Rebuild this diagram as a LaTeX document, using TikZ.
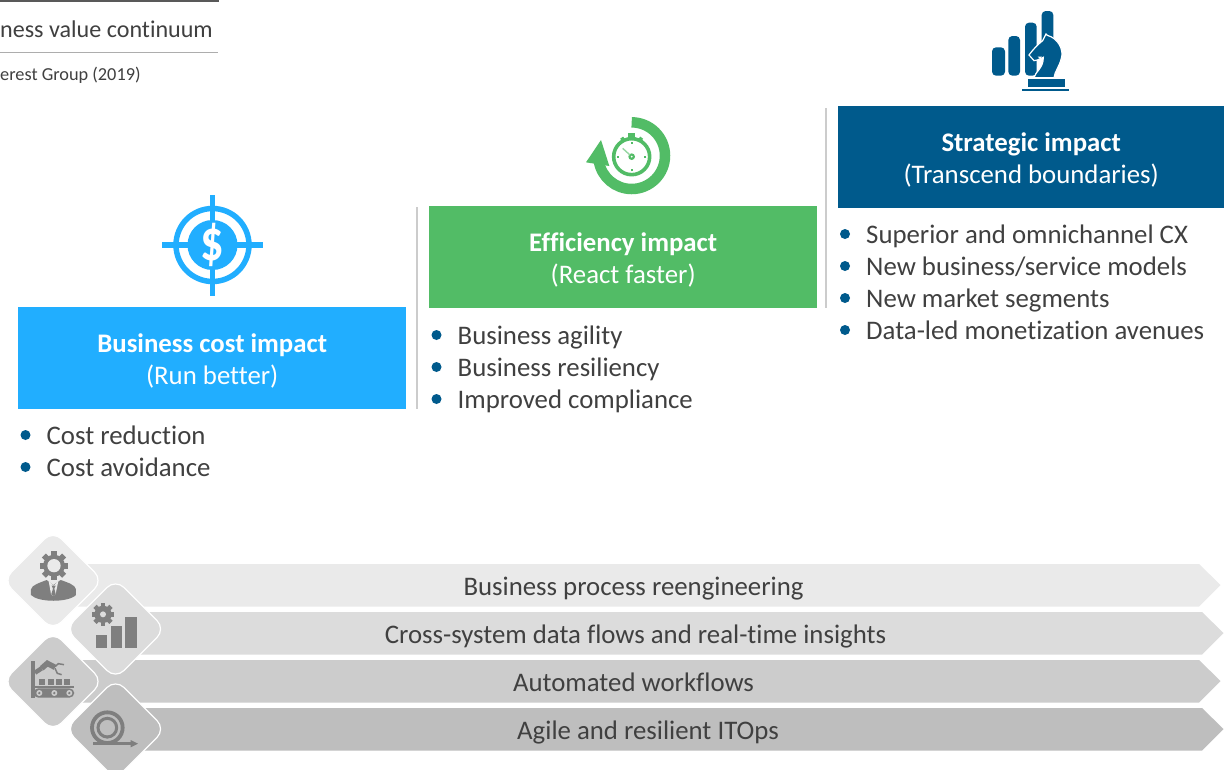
\documentclass[tikz,border=0pt]{standalone}
\usepackage{fontspec}
\setmainfont[Ligatures=CommonOff]{Carlito}
\definecolor{txt}{HTML}{404040}
\definecolor{cblue}{HTML}{21AEFF}
\definecolor{cgreen}{HTML}{52BC66}
\definecolor{cnavy}{HTML}{005A8C}
\definecolor{barA}{HTML}{EAEAEA}
\definecolor{barB}{HTML}{DCDCDC}
\definecolor{barC}{HTML}{CCCCCC}
\definecolor{barD}{HTML}{BEBEBE}
\definecolor{ico}{HTML}{7F7F7F}
\tikzset{
  box/.style={minimum width=388pt,minimum height=102pt,inner sep=0pt,anchor=north west},
  boxlabel/.style={inner sep=0pt,text=white,align=center,font=\fontsize{26.8}{32}\selectfont},
  item/.style={anchor=base west,inner sep=0pt,text=txt,font=\fontsize{26.8}{30}\selectfont},
  bul/.style={circle,fill=cnavy,minimum size=10pt,inner sep=0pt},
  barlabel/.style={anchor=base,text=txt,inner sep=0pt,font=\fontsize{26.8}{30}\selectfont},
  divider/.style={draw=black!20,line width=2pt},
  tile/.style={draw=white,line width=1.2pt,rounded corners=12pt},
}
% gear: x y outer-radius hole-radius bg
\newcommand{\mygear}[5]{%
  \fill[ico] (#1,#2) circle ({#3*0.76});
  \foreach \a in {0,45,...,315}{
    \fill[ico,rotate around={\a:(#1,#2)}] ({#1-#3*0.2},#2) rectangle ({#1+#3*0.2},{#2-#3});
  }
  \fill[#5] (#1,#2) circle (#4);
}
\begin{document}
\begin{tikzpicture}[x=1pt,y=-1pt]
\useasboundingbox (0,0) rectangle (1224,769);
\clip (0,0) rectangle (1224,769);
\fill[white] (0,0) rectangle (1224,769);
% header
\fill[black!65] (0,0) rectangle (219,2);
\fill[black!32] (0,52) rectangle (218,53.3);
\node[anchor=base east,inner sep=0pt,text=txt,font=\fontsize{24.1}{28}\selectfont] (title) at (213,37) {ness value continuum};
\node[anchor=base west,inner sep=0pt,text=txt,font=\fontsize{18.3}{20}\selectfont] (source) at (0,80) {erest Group (2019)};
% dividers
\draw[divider] (417,207) -- (417,409);
\draw[divider] (826,108) -- (826,308);
% boxes
\node[box,fill=cblue] (costbox) at (18,307) {};
\node[box,fill=cgreen] (effbox) at (429,206) {};
\node[box,fill=cnavy,minimum width=386pt] (stratbox) at (838,106) {};
\node[boxlabel] (costlabel) at ([yshift=-2.5pt]costbox.center) {\textbf{Business cost impact}\\(Run better)};
\node[boxlabel] (efflabel) at ([yshift=-3.2pt]effbox.center) {\textbf{Efficiency impact}\\(React faster)};
\node[boxlabel] (stratlabel) at ([yshift=-2.5pt]stratbox.center) {\textbf{Strategic impact}\\(Transcend boundaries)};
% bullets
\foreach \n/\x/\y/\t in {a/25.5/435/{Cost reduction},b/25.5/467/{Cost avoidance},
  c/436.5/335/{Business agility},d/436.5/367/{Business resiliency},e/436.5/399/{Improved compliance},
  f/845/234/{Superior and omnichannel CX},g/845/266/{New business/service models},h/845/298/{New market segments},i/845/330/{Data-led monetization avenues}}{
  \node[bul] (bul\n) at (\x,\y) {};
  \node[item] (item\n) at (\x+21,\y+9) {\t};
}
% target icon
\draw[cblue,line width=5.5pt] (212.5,245) circle (36.5);
\fill[cblue] (212.5,245) circle (25);
\fill[cblue] (162,242.3) rectangle (263,247.7);
\fill[cblue] (209.8,195) rectangle (215.2,296);
\node[text=white,inner sep=0pt,xscale=0.8,font=\fontsize{58}{58}\selectfont\bfseries] (dollar) at (212.5,245) {\$};
% stopwatch icon
\begin{scope}[shift={(570,105)},scale=1/3]
  \draw[cgreen,line width=10.5pt] (185,152) ++(-90:100) arc (-90:170:100);
  \fill[cgreen] (93,105) -- (48,172) -- (118,183) -- cycle;
  \draw[cgreen,line width=3.6pt] (185,155) circle (54);
  \fill[cgreen] (174,84) rectangle (196,102);
  \draw[cgreen,line width=3.6pt] (155,98) -- (161,106);
  \draw[cgreen,line width=3.6pt] (215,98) -- (209,106);
  \fill[cgreen] (185,155) circle (10);
  \fill[white] (185,155) circle (3);
  \draw[cgreen!60,line width=1.4pt] (158,130) -- (180,150);
  \foreach \a in {0,90,180,270}{\draw[cgreen,line width=2pt] (185,155) ++(\a:44) -- ++(\a:-7);}
\end{scope}
% strategy icon
\begin{scope}[shift={(960,0)},scale=1/3]
  \fill[cnavy,rounded corners=4pt] (96,142) rectangle (135,227);
  \fill[cnavy,rounded corners=4pt] (145,108) rectangle (180,227);
  \fill[cnavy,rounded corners=4pt] (195,68) rectangle (230,227);
  \fill[cnavy,rounded corners=4pt] (245,33) rectangle (280,150);
  \fill[cnavy,draw=white,line width=1.2pt] (258,102) -- (262,106) .. controls (295,115) and (312,150) .. (304,175) .. controls (298,200) and (284,215) .. (282,233) -- (222,233) .. controls (226,215) and (250,205) .. (250,172) -- (232,180) -- (222,182) -- (207,165) .. controls (222,145) and (232,135) .. (248,122) -- cycle;
  \fill[white] (233,170) -- (246,170) -- (240,176) -- cycle;
  \fill[cnavy] (203,238) rectangle (314,260);
  \fill[cnavy] (187,266) rectangle (328,272);
\end{scope}
% bars
\foreach \n/\c/\s/\t/\e/\lab/\lx in {
  one/barA/53/564/1199/{Business process reengineering}/633.5,
  two/barB/115/612/1202/{Cross-system data flows and real-time insights}/635.5,
  three/barC/53/660/1199/{Automated workflows}/633.5,
  four/barD/115/708/1202/{Agile and resilient ITOps}/648}{
  \fill[\c] (\s,\t) -- (\e,\t) -- (\e+21.5,\t+21) -- (\e,\t+42.5) -- (\s,\t+42.5) -- cycle;
  \node[barlabel] (lab\n) at (\lx,\t+31.3) {\lab};
}
% tiles
\foreach \n/\cx/\cy/\c in {A/53/580.5/barA,C/53/681.5/barC,B/115.5/629/barB,D/115.5/729/barD}{
  \draw[tile,fill=\c] (\cx-50,\cy) -- (\cx,\cy-50) -- (\cx+50,\cy) -- (\cx,\cy+50) -- cycle;
}
\begin{scope}[shift={(0,520)},scale=1/3]
  % person
  \mygear{162}{137}{43}{20}{barA}
  \fill[ico] (93,225) -- (93,208) .. controls (95,195) and (120,188) .. (140,180) -- (160,195) -- (182,180) .. controls (205,188) and (226,195) .. (228,208) -- (228,225) .. controls (205,248) and (115,248) .. (93,225) -- cycle;
  \fill[barA] (146,183) -- (153,222) -- (160,228) -- (167,222) -- (175,183) -- (161,197) -- cycle;
  \fill[ico] (155,197) -- (167,197) -- (163,206) -- (167,222) -- (160,228) -- (154,222) -- (159,206) -- cycle;
  % chart
  \mygear{309}{283}{34}{9}{barB}
  \fill[ico] (287,346) rectangle (320,384);
  \fill[ico] (332,318) rectangle (365,384);
  \fill[ico] (376,290) rectangle (410,384);
  % factory
  \fill[ico] (93,424) rectangle (105,533);
  \fill[ico,rounded corners=5pt] (100,505) rectangle (223,533);
  \fill[ico] (100,497) rectangle (223,503);
  \foreach \x in {118,163,208}{\fill[barC] (\x,519) circle (9); \fill[ico] (\x,519) circle (4);}
  \foreach \x in {118,143,168,193}{\fill[ico] (\x,477) rectangle (\x+18,495);}
  \draw[ico,line width=4.5pt] (105,458) -- (125,445);
  \draw[ico,line width=5.5pt] (125,445) -- (142,430) -- (165,442);
  \draw[ico,line width=1.5pt] (165,440) -- (175,431) -- (192,434);
  \draw[ico,line width=1.5pt] (165,445) -- (172,460) -- (185,464);
  % cycle
  \draw[ico,line width=3.8pt] (322,623) circle (46);
  \draw[ico,line width=3pt] (322,623) circle (28);
  \fill[ico] (322,590) -- (331,595) -- (322,600) -- cycle;
  \fill[ico] (322,656) -- (313,651) -- (322,646) -- cycle;
  \fill[ico] (280,666) rectangle (398,675);
  \fill[ico] (392,660) -- (414,671) -- (392,682) -- cycle;
\end{scope}
\end{tikzpicture}
\end{document}
